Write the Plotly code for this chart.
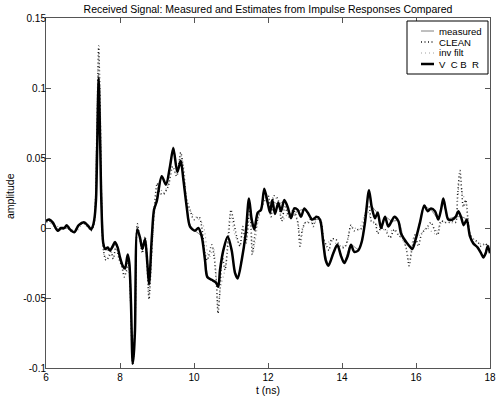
import plotly.graph_objects as go

# ---------------- data ----------------
vcbr_t = [6.000, 6.089, 6.181, 6.316, 6.405, 6.495, 6.559, 6.649, 6.765, 6.884, 7.035, 7.154, 7.216, 7.262, 7.305,
          7.351, 7.386, 7.423, 7.465, 7.500, 7.549, 7.603, 7.668, 7.730, 7.803, 7.865, 7.938, 8.000, 8.073, 8.135,
          8.208, 8.251, 8.297, 8.343, 8.373, 8.405, 8.468, 8.541, 8.603, 8.676, 8.738, 8.784, 8.857, 8.919, 8.992,
          9.127, 9.243, 9.351, 9.441, 9.549, 9.641, 9.711, 9.803, 9.892, 10.027, 10.116, 10.208, 10.297, 10.359,
          10.478, 10.595, 10.657, 10.703, 10.792, 10.911, 11.019, 11.108, 11.181, 11.289, 11.397, 11.486, 11.559,
          11.630, 11.722, 11.811, 11.900, 11.992, 12.054, 12.116, 12.189, 12.278, 12.351, 12.441, 12.532, 12.622,
          12.711, 12.803, 12.892, 12.981, 13.073, 13.197, 13.316, 13.405, 13.495, 13.559, 13.630, 13.765, 13.873,
          13.973, 14.062, 14.154, 14.243, 14.332, 14.441, 14.532, 14.622, 14.730, 14.803, 14.892, 14.965, 15.054,
          15.162, 15.251, 15.343, 15.414, 15.522, 15.595, 15.684, 15.792, 15.900, 15.992, 16.108, 16.224, 16.316,
          16.405, 16.514, 16.603, 16.676, 16.738, 16.803, 16.873, 16.981, 17.073, 17.143, 17.216, 17.289, 17.370,
          17.459, 17.549, 17.668, 17.757, 17.819, 17.884, 17.938, 18.000]
vcbr_v = [0.005, 0.006, 0.004, -0.002, 0.000, 0.000, 0.002, -0.001, -0.003, 0.002, 0.004, 0.001, -0.001, 0.001, 0.006,
          0.020, 0.060, 0.107, 0.060, 0.015, -0.011, -0.015, -0.014, -0.016, -0.013, -0.010, -0.014, -0.021, -0.027, -0.029,
          -0.019, -0.025, -0.054, -0.097, -0.090, -0.073, -0.001, -0.007, -0.015, -0.008, -0.025, -0.040, -0.008, 0.013, 0.019,
          0.037, 0.031, 0.044, 0.057, 0.040, 0.048, 0.035, 0.015, 0.001, -0.002, 0.000, -0.006, -0.023, -0.035,
          -0.037, -0.039, -0.042, -0.030, -0.016, -0.006, -0.016, -0.032, -0.036, -0.023, -0.004, 0.021, 0.006,
          -0.001, 0.011, 0.013, 0.028, 0.018, 0.011, 0.020, 0.010, 0.018, 0.012, 0.020, 0.015, 0.007,
          0.014, 0.013, 0.008, 0.014, 0.011, 0.006, 0.008, 0.006, -0.011, -0.023, -0.027, -0.018, -0.012,
          -0.020, -0.025, -0.020, -0.012, -0.017, -0.016, -0.010, 0.004, 0.027, 0.015, 0.007, 0.011, 0.000,
          0.008, 0.001, 0.005, 0.008, 0.005, -0.004, -0.008, -0.012, -0.015, -0.008, 0.004, 0.016, 0.012,
          0.014, 0.012, 0.006, 0.013, 0.021, 0.013, 0.006, 0.006, 0.008, 0.012, 0.008, 0.002, 0.006,
          -0.006, -0.011, -0.014, -0.018, -0.021, -0.018, -0.013, -0.018]

clean_t = [6.000, 6.089, 6.181, 6.316, 6.405, 6.495, 6.559, 6.649, 6.765, 6.884, 7.035, 7.154, 7.216, 7.262, 7.305,
           7.351, 7.386, 7.423, 7.460, 7.500, 7.549, 7.622, 7.711, 7.757, 7.819, 7.892, 7.973, 8.054, 8.116, 8.176,
           8.230, 8.284, 8.343, 8.405, 8.468, 8.541, 8.603, 8.676, 8.738, 8.784, 8.851, 8.919, 9.008, 9.081, 9.170,
           9.305, 9.424, 9.532, 9.641, 9.695, 9.803, 9.892, 10.000, 10.135, 10.208, 10.297, 10.359, 10.478, 10.541,
           10.608, 10.649, 10.703, 10.765, 10.838, 10.927, 11.000, 11.062, 11.154, 11.243, 11.316, 11.397, 11.514,
           11.576, 11.649, 11.738, 11.830, 11.919, 12.008, 12.081, 12.170, 12.262, 12.370, 12.459, 12.568, 12.684,
           12.803, 12.865, 12.927, 13.019, 13.108, 13.162, 13.224, 13.316, 13.432, 13.495, 13.586, 13.649, 13.722,
           13.830, 13.946, 14.062, 14.154, 14.243, 14.332, 14.441, 14.549, 14.668, 14.730, 14.803, 14.892, 14.965,
           15.054, 15.162, 15.297, 15.414, 15.522, 15.657, 15.746, 15.811, 15.884, 15.973, 16.062, 16.154, 16.289,
           16.405, 16.495, 16.586, 16.676, 16.784, 16.892, 17.008, 17.073, 17.127, 17.189, 17.235, 17.278, 17.343,
           17.397, 17.459, 17.549, 17.668, 17.757, 17.865, 17.943, 18.000]
clean_v = [0.004, 0.005, 0.003, -0.001, 0.000, -0.001, 0.002, -0.002, -0.003, 0.002, 0.003, 0.001, -0.002, 0.000, 0.004,
           0.030, 0.080, 0.130, 0.090, 0.020, -0.015, -0.023, -0.020, -0.017, -0.022, -0.013, -0.022, -0.028, -0.035, -0.030,
           -0.025, -0.050, -0.098, -0.070, 0.003, -0.008, -0.018, -0.006, -0.030, -0.051, -0.020, 0.012, 0.032, 0.025, 0.024,
           0.030, 0.044, 0.037, 0.054, 0.046, 0.020, 0.013, 0.006, 0.008, 0.001, -0.018, -0.023, -0.012, -0.020,
           -0.040, -0.061, -0.044, -0.020, -0.030, -0.008, 0.013, 0.006, -0.006, -0.013, 0.001, -0.011, 0.014,
           -0.019, -0.004, 0.008, 0.015, 0.020, 0.023, 0.008, 0.023, 0.021, 0.005, 0.015, 0.008, 0.013,
           0.004, -0.013, -0.001, 0.004, 0.004, 0.007, 0.001, 0.009, 0.005, -0.007, -0.013, -0.016, -0.008,
           -0.008, -0.013, -0.014, -0.008, 0.002, -0.002, -0.001, 0.000, 0.014, 0.015, 0.004, 0.004, -0.004,
           0.000, -0.001, -0.007, -0.001, -0.005, -0.008, -0.016, -0.027, -0.016, -0.005, -0.013, -0.004, 0.000,
           0.004, -0.001, -0.005, 0.005, 0.004, 0.004, 0.005, 0.004, 0.025, 0.041, 0.027, 0.015, 0.020,
           0.008, -0.004, -0.008, -0.010, -0.013, -0.011, -0.013, -0.012]

inv_t = [6.00, 6.20, 6.40, 6.60, 6.80, 7.00, 7.20, 7.30, 7.36, 7.42, 7.47, 7.52, 7.60, 7.75, 7.90, 8.05, 8.15,
         8.25, 8.30, 8.34, 8.40, 8.47, 8.55, 8.68, 8.78, 8.86, 8.95, 9.05, 9.17, 9.30, 9.42, 9.53, 9.64, 9.72,
         9.82, 9.95, 10.10, 10.25, 10.40, 10.52, 10.61, 10.65, 10.72, 10.85, 10.98, 11.10, 11.25, 11.40, 11.52,
         11.60, 11.75, 11.90, 12.05, 12.20, 12.40, 12.60, 12.80, 12.88, 13.00, 13.20, 13.40, 13.55, 13.70, 13.90,
         14.10, 14.25, 14.45, 14.67, 14.80, 15.00, 15.20, 15.40, 15.60, 15.75, 15.82, 15.95, 16.10, 16.30, 16.50,
         16.70, 16.90, 17.05, 17.13, 17.19, 17.24, 17.35, 17.45, 17.60, 17.80, 18.00]
inv_v = [0.004, 0.003, 0.000, 0.001, -0.003, 0.003, -0.001, 0.004, 0.060, 0.125, 0.085, 0.010, -0.021, -0.018, -0.015, -0.027, -0.033,
         -0.026, -0.052, -0.096, -0.068, 0.002, -0.009, -0.007, -0.049, -0.018, 0.014, 0.030, 0.025, 0.031, 0.043, 0.038, 0.052, 0.044,
         0.019, 0.010, 0.007, 0.002, -0.022, -0.014, -0.038, -0.058, -0.042, -0.028, 0.010, -0.004, -0.012, -0.010, 0.012,
         -0.017, 0.007, 0.019, 0.021, 0.022, 0.006, 0.012, 0.005, -0.012, 0.004, 0.004, 0.004, -0.012, -0.009, -0.012,
         -0.013, 0.001, -0.001, 0.013, 0.005, 0.001, -0.002, -0.002, -0.007, -0.015, -0.025, -0.006, -0.005, 0.000, -0.004,
         0.004, 0.004, 0.004, 0.022, 0.039, 0.026, 0.018, -0.003, -0.009, -0.012, -0.012]

meas_t = [6.00, 6.10, 6.30, 6.50, 6.65, 6.77, 6.90, 7.05, 7.22, 7.30, 7.36, 7.42, 7.47, 7.52, 7.60, 7.75, 7.90,
          8.00, 8.13, 8.21, 8.26, 8.30, 8.34, 8.40, 8.47, 8.54, 8.60, 8.68, 8.74, 8.79, 8.86, 8.92, 9.00, 9.13,
          9.24, 9.35, 9.44, 9.55, 9.64, 9.71, 9.80, 9.90, 10.03, 10.20, 10.30, 10.40, 10.55, 10.65, 10.72, 10.80,
          10.91, 11.02, 11.11, 11.18, 11.29, 11.40, 11.49, 11.56, 11.63, 11.72, 11.81, 11.90, 11.99, 12.12, 12.28,
          12.44, 12.62, 12.80, 12.98, 13.20, 13.40, 13.50, 13.63, 13.77, 13.87, 14.06, 14.24, 14.44, 14.62, 14.73,
          14.80, 14.97, 15.05, 15.16, 15.34, 15.52, 15.68, 15.90, 16.10, 16.22, 16.40, 16.60, 16.74, 16.87, 17.07,
          17.22, 17.37, 17.46, 17.67, 17.82, 17.94, 18.00]
meas_v = [0.005, 0.006, -0.002, 0.000, -0.001, -0.003, 0.002, 0.004, -0.001, 0.005, 0.055, 0.110, 0.062, 0.012, -0.015, -0.016, -0.011,
          -0.021, -0.029, -0.019, -0.026, -0.055, -0.096, -0.072, 0.000, -0.007, -0.015, -0.008, -0.026, -0.041, -0.009, 0.013, 0.019, 0.036,
          0.032, 0.043, 0.058, 0.041, 0.047, 0.035, 0.016, 0.002, -0.002, -0.006, -0.022, -0.036, -0.038, -0.041, -0.031, -0.016,
          -0.007, -0.017, -0.031, -0.035, -0.022, -0.004, 0.020, 0.007, 0.000, 0.010, 0.014, 0.027, 0.018, 0.019, 0.017,
          0.019, 0.008, 0.012, 0.013, 0.006, 0.006, -0.011, -0.026, -0.017, -0.012, -0.024, -0.012, -0.015, 0.004, 0.026,
          0.016, 0.010, 0.001, 0.008, 0.005, 0.005, -0.008, -0.014, 0.004, 0.015, 0.013, 0.007, 0.020, 0.007, 0.008,
          0.008, 0.006, -0.006, -0.014, -0.020, -0.013, -0.017]

x_ticks = [6, 8, 10, 12, 14, 16, 18]
y_ticks = [-0.1, -0.05, 0, 0.05, 0.1, 0.15]
y_tick_labels = ["-0.1", "-0.05", "0", "0.05", "0.1", "0.15"]

series_names = ["measured", "CLEAN", "inv filt", "V  C B  R"]

# ---------------- styles ----------------
FONT = "Liberation Sans, Arial, Helvetica, sans-serif"
styles = [
    dict(color="#808080", width=1, dash="solid"),
    dict(color="#1a1a1a", width=1.5, dash="1px,2.5px"),
    dict(color="#a0a0a0", width=1.2, dash="1px,3px"),
    dict(color="black", width=2.5, dash="solid"),
]
series_xy = [(meas_t, meas_v), (clean_t, clean_v), (inv_t, inv_v), (vcbr_t, vcbr_v)]

fig = go.Figure()
for name, (tx, vy), st in zip(series_names, series_xy, styles):
    fig.add_trace(go.Scatter(x=tx, y=vy, name=name, mode="lines", showlegend=False, hoverinfo="skip",
                             line=dict(color=st["color"], width=st["width"], dash=st["dash"],
                                       shape="spline", smoothing=0.8)))

axis_common = dict(showgrid=False, zeroline=False, showline=True, linecolor="#555555", linewidth=1,
                   mirror="ticks", ticks="inside", ticklen=5, tickcolor="#555555", automargin=False,
                   tickfont=dict(family=FONT, size=10, color="black"))

# plot area in pixels: x 46..490, y 18..368
PL, PR, PT, PB = 46, 490, 18, 368
def px(xp):
    return (xp - PL) / (PR - PL)
def py(yp):
    return (PB - yp) / (PB - PT)

# legend box (drawn as shapes + text, MATLAB style)
shapes = [dict(type="rect", xref="paper", yref="paper", x0=px(407), x1=px(488), y0=py(74), y1=py(21),
               line=dict(color="black", width=1), fillcolor="white", layer="above")]
annotations = []
rows_y = [31, 42, 53, 64]
for name, st, ry in zip(series_names, styles, rows_y):
    shapes.append(dict(type="line", xref="paper", yref="paper", x0=px(421), x1=px(434), y0=py(ry), y1=py(ry),
                       line=dict(color=st["color"], width=st["width"] if st["width"] > 1.3 else 1,
                                 dash=st["dash"]), layer="above"))
    annotations.append(dict(text=name, xref="paper", yref="paper", x=px(437), y=py(ry), xanchor="left",
                            yanchor="middle", showarrow=False, font=dict(family=FONT, size=9.6, color="black")))

# axis titles
annotations.append(dict(text="t (ns)", xref="paper", yref="paper", x=0.5, y=py(390), xanchor="center",
                        yanchor="middle", showarrow=False, font=dict(family=FONT, size=10.5, color="black")))
annotations.append(dict(text="amplitude", xref="paper", yref="paper", x=px(10), y=py(196), xanchor="center",
                        yanchor="middle", textangle=-90, showarrow=False,
                        font=dict(family=FONT, size=10.5, color="black")))

fig.update_layout(
    width=500, height=399,
    margin=dict(l=PL, r=500 - PR, t=PT, b=399 - PB),
    paper_bgcolor="white", plot_bgcolor="white",
    font=dict(family=FONT, size=10, color="black"),
    title=dict(text="Received Signal: Measured and Estimates from Impulse Responses Compared",
               x=0.5, xref="paper", xanchor="center", y=1 - 9 / 399, yanchor="middle", yref="container",
               font=dict(family=FONT, size=10.5, color="black")),
    xaxis=dict(range=[6, 18], tickvals=x_ticks, ticktext=[str(v) for v in x_ticks], ticklabeloverflow="allow",
               **axis_common),
    yaxis=dict(range=[-0.1, 0.15], tickvals=y_ticks, ticktext=y_tick_labels, ticklabelstandoff=-3,
               **axis_common),
    shapes=shapes,
    annotations=annotations,
    showlegend=False,
    hovermode=False,
)

fig.write_html("out.html", config={"displayModeBar": False, "staticPlot": True},
               post_script="document.body.style.margin='0';document.body.style.overflow='hidden';")
